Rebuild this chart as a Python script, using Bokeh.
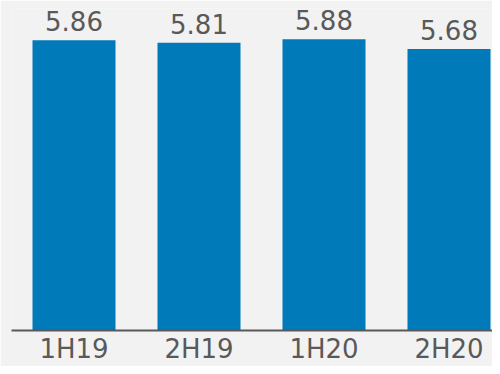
from bokeh.plotting import figure
from bokeh.models import ColumnDataSource, Range1d, FixedTicker
from bokeh.core.properties import value
from bokeh.embed import file_html
from bokeh.resources import INLINE

categories = ["1H19", "2H19", "1H20", "2H20"]
values = [5.86, 5.81, 5.88, 5.68]
labels = ["5.86", "5.81", "5.88", "5.68"]

xs = list(range(len(categories)))
src = ColumnDataSource(dict(x=xs, top=values, label=labels))

BG = "#f2f2f2"
TXT = "#595959"

p = figure(width=492, height=366, output_backend="svg",
           toolbar_location=None, x_range=Range1d(-0.5, 3.348),
           y_range=Range1d(0, 6.5), min_border_left=11, min_border_right=0,
           min_border_top=8, min_border_bottom=0)
p.background_fill_color = BG
p.border_fill_color = BG
p.outline_line_color = None
p.xgrid.visible = False
p.ygrid.visible = False
p.yaxis.visible = False

p.vbar(x="x", top="top", width=0.664, bottom=0, source=src,
       fill_color="#007ab8", line_color=None)
p.text(x="x", y="top", text="label", source=src, y_offset=-19,
       text_align="center", text_baseline="alphabetic",
       text_font=value("DejaVu Sans"), text_font_size="26px", text_color=TXT)

ax = p.xaxis[0]
ax.ticker = FixedTicker(ticks=xs)
ax.major_label_overrides = {i: c for i, c in zip(xs, categories)}
ax.major_tick_line_color = None
ax.minor_tick_line_color = None
ax.major_tick_out = 0
ax.major_tick_in = 0
ax.major_label_standoff = 3
ax.axis_line_color = TXT
ax.axis_line_width = 2
ax.major_label_text_font = "DejaVu Sans"
ax.major_label_text_font_size = "26px"
ax.major_label_text_color = TXT

open("out.html", "w").write(file_html(p, INLINE))
